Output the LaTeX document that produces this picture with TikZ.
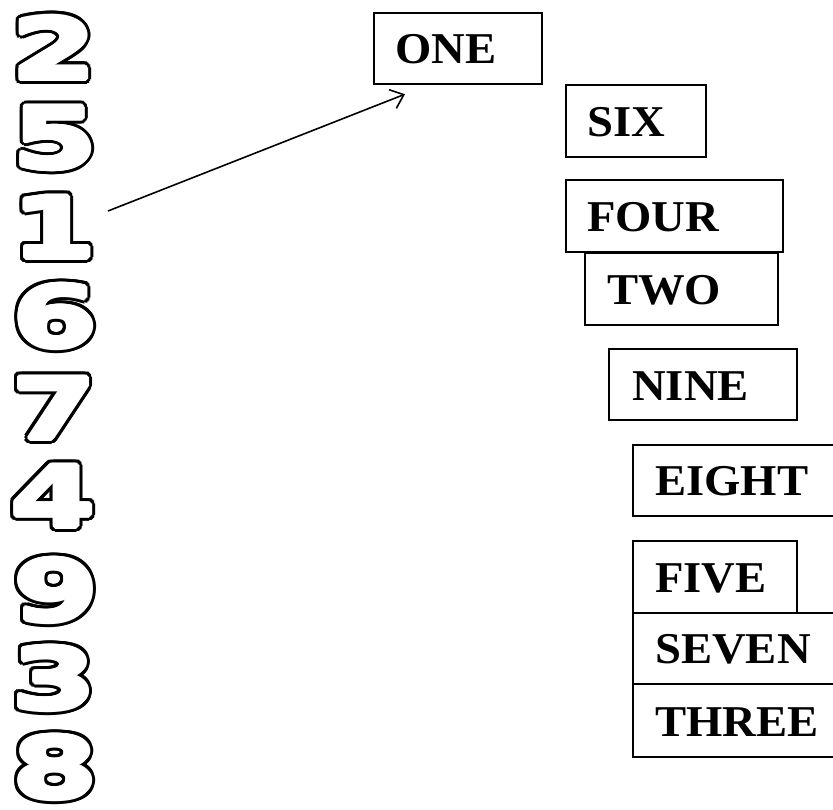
\documentclass[tikz,border=0pt]{standalone}
\usepackage{fontspec}
\usetikzlibrary{calc,arrows.meta}
\newfontfamily\wordfont{Liberation Serif}[FakeStretch=1.06]
\newfontfamily\digitfont{DejaVu Sans}
\newcommand\bubbledigit[3]{%
  \foreach \a in {0,15,...,345}
    \node[dig, text=black] (#1-\a) at ($(#2)+(\a:5.5)$) {\scalebox{1.45}[1]{#3}};
  \foreach \a in {0,30,...,330}
    \node[dig, text=white] (#1-w\a) at ($(#2)+(\a:2.5)$) {\scalebox{1.45}[1]{#3}};
  \node[dig, text=white] (#1) at (#2) {\scalebox{1.45}[1]{#3}};%
}
\begin{document}
\begin{tikzpicture}[x=1pt,y=-1pt,
  wbox/.style={draw, line width=2.2pt, anchor=north west, inner sep=0pt},
  word/.style={anchor=west, inner sep=0pt, font=\wordfont\bfseries\fontsize{44}{44}\selectfont},
  dig/.style={inner sep=0pt, font=\digitfont\bfseries\fontsize{84}{84}\selectfont},
  arr/.style={line width=1.6pt, -{Straight Barb[length=12pt,width=20pt,line width=1.6pt]}}]
\clip (0,0) rectangle (833,810);
\fill[white] (0,0) rectangle (833,810);
% digits
\bubbledigit{d2}{54,48}{2}
\bubbledigit{d5}{55,138}{5}
\bubbledigit{d1}{54,227}{1}
\bubbledigit{d6}{55,316}{6}
\bubbledigit{d7}{54,408}{7}
\bubbledigit{d4}{53,496}{4}
\bubbledigit{d9}{56,590}{9}
\bubbledigit{d3}{54,678}{3}
\bubbledigit{d8}{55,767}{8}
% boxes
\node[wbox, minimum width=168pt, minimum height=71pt] (one) at (373,12) {};
\node[word] (onet) at ($(one.west)+(22,1)$) {ONE};
\node[wbox, minimum width=140pt, minimum height=72pt] (six) at (565,84) {};
\node[word] (sixt) at ($(six.west)+(22,1)$) {SIX};
\node[wbox, minimum width=217pt, minimum height=72pt] (four) at (565,179) {};
\node[word] (fourt) at ($(four.west)+(22,1)$) {FOUR};
\node[wbox, minimum width=193pt, minimum height=72pt] (two) at (584,252) {};
\node[word] (twot) at ($(two.west)+(23,1)$) {TWO};
\node[wbox, minimum width=188pt, minimum height=71pt] (nine) at (608,348) {};
\node[word] (ninet) at ($(nine.west)+(24,1)$) {NINE};
\node[wbox, minimum width=230pt, minimum height=71pt] (eight) at (632,444) {};
\node[word] (eightt) at ($(eight.west)+(23,1)$) {EIGHT};
\node[wbox, minimum width=164pt, minimum height=72pt] (five) at (632,540) {};
\node[word] (fivet) at ($(five.west)+(23,1)$) {FIVE};
\node[wbox, minimum width=230pt, minimum height=71pt] (seven) at (632,612) {};
\node[word] (sevent) at ($(seven.west)+(23,1)$) {SEVEN};
\node[wbox, minimum width=230pt, minimum height=73pt] (three) at (632,683) {};
\node[word] (threet) at ($(three.west)+(23,1)$) {THREE};
% arrow
\draw[arr] ($(d1.center)+(54,-16)$) -- ($(one.south west)+(32,9)$);
\end{tikzpicture}
\end{document}
